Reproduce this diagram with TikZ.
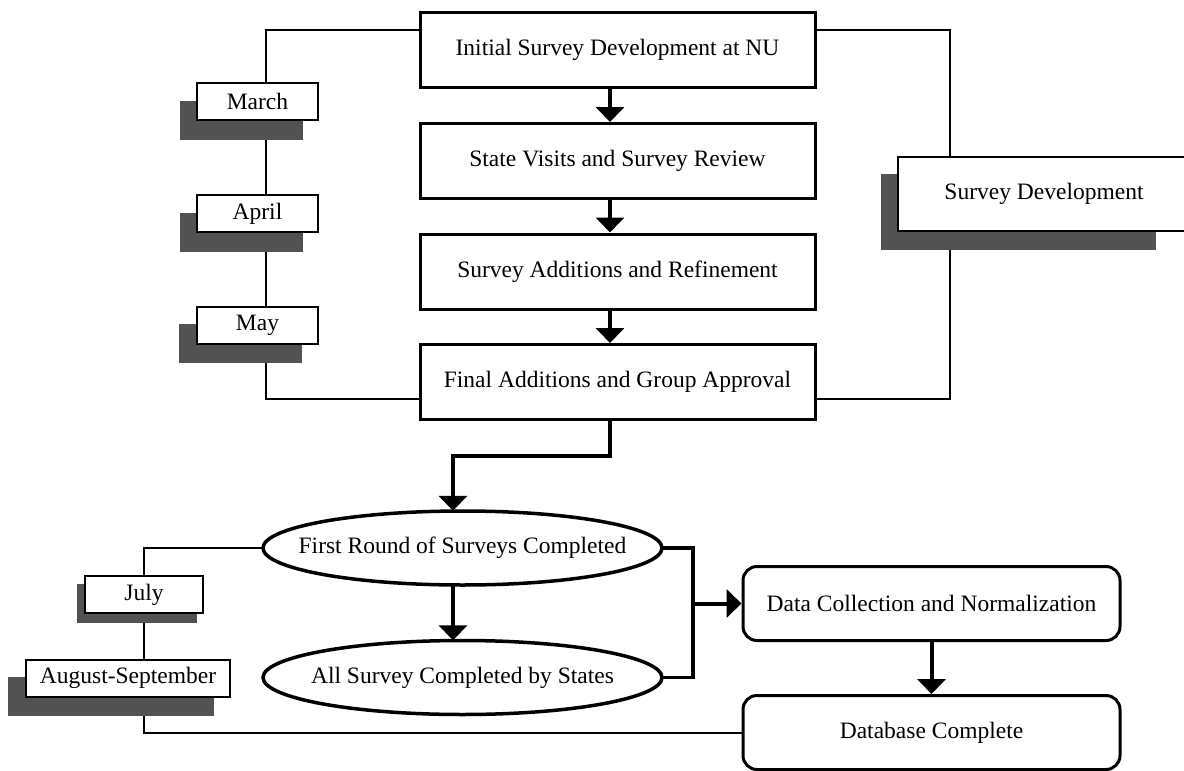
\documentclass[tikz,border=0pt]{standalone}
\usepackage{fontspec}
\setmainfont{Liberation Serif}
\usetikzlibrary{arrows.meta}
\pgfdeclarelayer{background}
\pgfsetlayers{background,main}
\newcommand\boxshadow[3]{\fill[shadowcol] ([shift={(#2,#3)}]#1.south west) rectangle ([shift={(#2,#3)}]#1.north east);}
\begin{document}
\begin{tikzpicture}[x=1pt,y=-1pt,
  every node/.style={font=\fontsize{23.5}{28}\selectfont, inner sep=0pt},
  colbox/.style={draw, line width=3pt, fill=white, minimum width=395pt, minimum height=75pt},
  month/.style={draw, line width=2pt, fill=white, minimum height=37pt},
  shadowcol/.style={fill=black!68},
  conn/.style={line width=2pt},
  thickconn/.style={line width=3.5pt},
  flow/.style={line width=4pt, -{Triangle[width=28pt,length=15pt]}},
  ovaltext/.style={minimum width=399pt, minimum height=74pt},
  ovalline/.style={line width=3.5pt},
  rbox/.style={draw, rounded corners=14pt, line width=3pt, fill=white, minimum width=377pt, minimum height=74pt}]
\useasboundingbox (0,0) rectangle (1184,771);

% main column
\node[colbox] (c1) at (617.5,50) {Initial Survey Development at NU};
\node[colbox] (c2) at (617.5,161) {State Visits and Survey Review};
\node[colbox] (c3) at (617.5,271.5) {Survey Additions and Refinement};
\node[colbox] (c4) at (617.5,382) {Final Additions and Group Approval};

% right label
\node[draw, line width=2pt, fill=white, minimum width=292pt, minimum height=74pt] (sd) at (1044,194) {Survey Development};

% month labels
\node[month, minimum width=121pt] (march) at (257.5,101.5) {March};
\node[month, minimum width=121pt] (april) at (257.5,213.5) {April};
\node[month, minimum width=121pt] (may) at (257.5,325.5) {May};
\node[month, minimum width=118pt] (july) at (144,594.5) {July};
\node[month, minimum width=204pt] (aug) at (128,678) {August-September};

% ovals
\node[ovaltext] (o1) at (462.5,548) {First Round of Surveys Completed};
\node[ovaltext] (o2) at (462.5,677.5) {All Survey Completed by States};
\draw[ovalline] (o1.center) ellipse [x radius=199.5pt, y radius=37pt];
\draw[ovalline] (o2.center) ellipse [x radius=199.5pt, y radius=37pt];

% rounded boxes
\node[rbox] (data) at (931.5,603.5) {Data Collection and Normalization};
\node[rbox] (db) at (931.5,732.5) {Database Complete};

\begin{pgfonlayer}{background}
  % thin connectors
  \draw[conn] ([yshift=20pt]c1.west) -| ([xshift=8pt]march.north);
  \draw[conn] ([xshift=8pt]march.south) -- ([xshift=8pt]april.north);
  \draw[conn] ([xshift=8pt]april.south) -- ([xshift=8pt]may.north);
  \draw[conn] ([xshift=8pt]may.south) |- ([yshift=-17pt]c4.west);
  \draw[conn] ([yshift=20pt]c1.east) -| ([xshift=-94pt]sd.north);
  \draw[conn] ([xshift=-94pt]sd.south) |- ([yshift=-17pt]c4.east);
  \draw[conn] (o1.west) -| (july.north);
  \draw[conn] (july.south) -- ([xshift=16pt]aug.north);
  \draw[conn] (db.west) -| ([xshift=16pt]aug.south);
  % shadows
  \boxshadow{march}{-16pt}{-19pt}
  \boxshadow{april}{-16pt}{-19pt}
  \boxshadow{may}{-17pt}{-18pt}
  \boxshadow{july}{-7pt}{-9pt}
  \boxshadow{aug}{-17pt}{-18pt}
  \fill[shadowcol] ([shift={(-16pt,-18pt)}]sd.south west) rectangle ([shift={(-35pt,-18pt)}]sd.north east);
\end{pgfonlayer}

% flow arrows
\draw[flow] ([xshift=-7.5pt]c1.south) -- ([xshift=-7.5pt]c2.north);
\draw[flow] ([xshift=-7.5pt]c2.south) -- ([xshift=-7.5pt]c3.north);
\draw[flow] ([xshift=-7.5pt]c3.south) -- ([xshift=-7.5pt]c4.north);
\draw[flow] ([xshift=-7.5pt]c4.south) -- ++(0,35) -| ([xshift=-9.5pt]o1.north);
\draw[flow] ([xshift=-9.5pt]o1.south) -- ([xshift=-9.5pt]o2.north);
\coordinate (br) at ([xshift=31pt]o1.east);
\draw[thickconn] (o1.east) -| ([xshift=31pt]o2.east) -- (o2.east);
\draw[flow] (br |- data.west) -- (data.west);
\draw[flow] (data.south) -- (db.north);
\end{tikzpicture}
\end{document}
